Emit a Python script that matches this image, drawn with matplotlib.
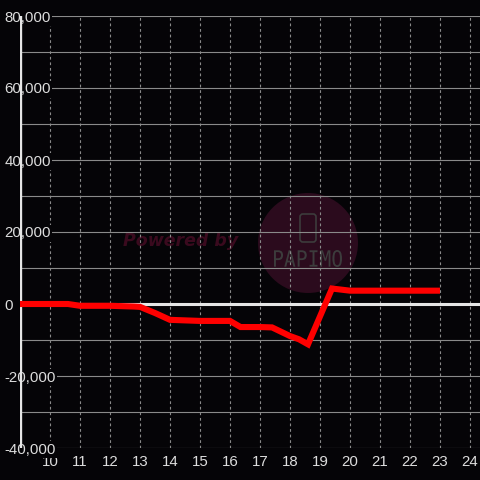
import matplotlib
matplotlib.use("Agg")
import matplotlib.pyplot as plt
from matplotlib.patches import Circle, FancyBboxPatch, PathPatch
from matplotlib.textpath import TextPath
from matplotlib.font_manager import FontProperties
from matplotlib.transforms import Affine2D, IdentityTransform
from matplotlib.ticker import MultipleLocator, FuncFormatter

plt.rcParams["font.family"] = ["Liberation Sans", "DejaVu Sans"]

# Data (hour of day -> balance)
hours = [9, 10, 10.6, 11, 12, 12.8, 13, 13.5, 14, 15, 16, 16.35, 17, 17.4, 18, 18.3, 18.6, 19.4, 20, 21, 22, 23]
balance = [0, 0, 0, -500, -500, -700, -800, -2500, -4400, -4700, -4700, -6400, -6400, -6500, -8900, -9800, -11200, 4300, 3700, 3700, 3700, 3700]
x_ticks = list(range(10, 25))
y_ticks = [-40000, -20000, 0, 20000, 40000, 60000, 80000]

BG = "#050407"

fig = plt.figure(figsize=(4.8, 4.8), dpi=100, facecolor=BG)
ax = fig.add_axes([20 / 480, 32 / 480, 460 / 480, 432 / 480], facecolor=BG)

ax.set_xlim(9, 9 + 460 / 30)
ax.set_ylim(-40000, 80000)

# grid
ax.yaxis.set_minor_locator(MultipleLocator(10000))
ax.set_yticks(y_ticks)
ax.set_xticks(x_ticks)
ax.grid(axis="y", which="both", color="#8a8a8a", lw=0.8)
ax.grid(axis="x", which="major", color="#8a8a8a", lw=0.8, ls=(0, (2.5, 2.5)))
ax.set_axisbelow(True)

for s in ax.spines.values():
    s.set_visible(False)

# watermark (behind the grid)
ftr = fig.transFigure
ax.add_patch(Circle((308 / 480, 1 - 243 / 480), 50 / 480, transform=ftr,
                    facecolor="#2b0b1d", edgecolor="none", zorder=0.2))
ax.add_patch(FancyBboxPatch((300 / 480, 1 - 242 / 480), 16 / 480, 28 / 480,
                            boxstyle="round,pad=0,rounding_size=0.006",
                            transform=ftr, facecolor="none",
                            edgecolor="#3c3c3c", lw=1.2, zorder=0.3))
ax.text(181 / 480, 1 - 241 / 480, "Powered by", transform=ftr, color="#3a0a1e",
        fontsize=12.5, fontweight="bold", style="italic", family="DejaVu Sans",
        ha="center", va="center", zorder=0.3)

# condensed "PAPIMO" logo text
tp = TextPath((0, 0), "PAPIMO", size=20, prop=FontProperties(family="DejaVu Sans Mono"))
ext = tp.get_extents()
logo_tr = (Affine2D().translate(-ext.x0, -ext.y0)
           .scale(68 / ext.width, 17 / ext.height)
           .translate(274, 480 - 267) + IdentityTransform())
ax.add_patch(PathPatch(tp, transform=logo_tr, facecolor="#3c3c3c",
                       edgecolor="none", zorder=0.3))

# left axis + zero line
ax.axvline(9, color="#e6e6e6", lw=2.4, zorder=1)
ax.axhline(0, color="#e6e6e6", lw=2.2, zorder=2)

ax.plot(hours, balance, color="#ff0000", lw=4.4, solid_joinstyle="miter",
        solid_capstyle="butt", zorder=3)

ax.yaxis.set_major_formatter(FuncFormatter(lambda v, p: f"{int(v):,}"))
ax.tick_params(axis="y", which="both", length=0, pad=11, labelsize=10.8,
               labelcolor="#dddddd")
for lbl in ax.get_yticklabels():
    lbl.set_horizontalalignment("left")
    lbl.set_bbox(dict(facecolor=BG, edgecolor="none", pad=0.8))
ax.tick_params(axis="x", length=0, pad=5, labelsize=10.8, labelcolor="#dddddd")

fig.savefig("out.png", dpi=100, facecolor=BG)
